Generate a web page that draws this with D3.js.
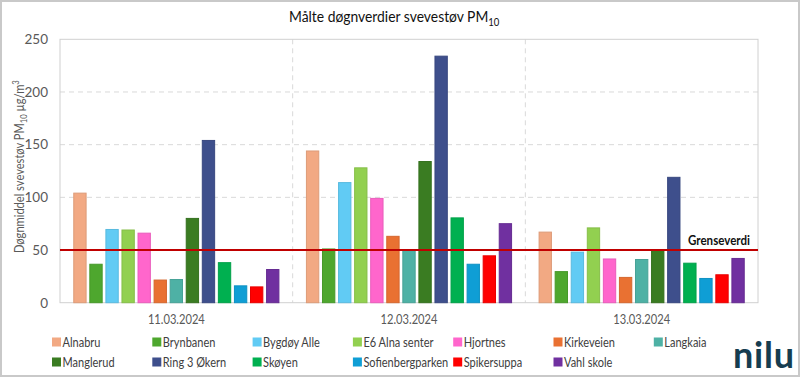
<!DOCTYPE html>
<html><head><meta charset="utf-8">
<script src="https://cdn.jsdelivr.net/npm/d3@7"></script>
<style>
body{margin:0;background:#fff;}
svg{display:block;}
</style></head>
<body><svg id="c" width="800" height="377"></svg>
<script>
const dates = ["11.03.2024","12.03.2024","13.03.2024"];
const stations = ["Alnabru","Brynbanen","Bygdøy Alle","E6 Alna senter","Hjortnes","Kirkeveien","Langkaia","Manglerud","Ring 3 Økern","Skøyen","Sofienbergparken","Spikersuppa","Vahl skole"];
const colors = ["#F2A983","#4EA72E","#61CBF4","#92D050","#FF66CC","#E97132","#4EB1A5","#3A7C22","#3E4F8C","#00B050","#0F9ED5","#FF0000","#7030A0"];
const day1 = [104,36.5,69.5,69,66,21.5,22,80,154,38,16,15,31.5];
const day2 = [144,51,114,128,99,63,49.5,134,234,80.5,36.5,44.5,75];
const day3 = [67,29.5,48,71,41.5,24,41,50,119,37.5,23,26.5,42];
const values = [day1, day2, day3];
const yTicks = [0,50,100,150,200,250];
const limitValue = 50;

const svg = d3.select("#c");
const FF = "Lato, 'Open Sans', sans-serif";
const L = 60, R = 758, T = 39.3, B = 302.7;

function fit(textSel, target){
  const w = textSel.node().getComputedTextLength();
  textSel.attr("transform", `scale(${target / w},1)`);
}

svg.append("rect").attr("x",1).attr("y",1).attr("width",798).attr("height",375)
  .attr("fill","#fff").attr("stroke","#c9c9c9").attr("stroke-width",2);

const x0 = d3.scaleBand().domain(dates).range([L,R]).padding(0);
const bw = x0.bandwidth();
const x1 = d3.scaleBand().domain(stations).range([bw*0.057, bw*(1-0.057)]).paddingInner(0.17).paddingOuter(0);
const y = d3.scaleLinear().domain([0,250]).range([B,T]);

// grid
svg.append("g").selectAll("line").data(yTicks.filter(d=>d>0 && d<250)).join("line")
  .attr("x1",L).attr("x2",R).attr("y1",d=>y(d)).attr("y2",d=>y(d))
  .attr("stroke","#d9d9d9").attr("stroke-dasharray","5,4").attr("stroke-width",1);
svg.append("g").selectAll("line").data(dates.slice(1)).join("line")
  .attr("x1",d=>x0(d)).attr("x2",d=>x0(d)).attr("y1",T).attr("y2",B)
  .attr("stroke","#d9d9d9").attr("stroke-dasharray","5,4").attr("stroke-width",1);
svg.append("rect").attr("x",L).attr("y",T).attr("width",R-L).attr("height",B-T)
  .attr("fill","none").attr("stroke","#d0d0d0").attr("stroke-width",1);

// y axis labels
const yAxis = d3.axisLeft(y).tickValues(yTicks).tickSize(0).tickPadding(10);
const ga = svg.append("g").attr("transform",`translate(${L-2},0)`).call(yAxis);
ga.select(".domain").remove();
ga.selectAll("text").attr("font-family",FF).attr("font-size",13.5).attr("fill","#595959");

// x axis labels
const xa = d3.axisBottom(x0).tickSize(0).tickPadding(12);
const gx = svg.append("g").attr("transform",`translate(0,${B})`).call(xa);
gx.select(".domain").remove();
gx.selectAll("text").attr("font-family",FF).attr("font-size",13).attr("fill","#595959")
  .each(function(){ fit(d3.select(this), 57); });

// bars
const groups = svg.append("g").selectAll("g").data(dates).join("g")
  .attr("transform",d=>`translate(${x0(d)},0)`);
groups.selectAll("rect").data((d,i)=>stations.map((s,j)=>({s, v: values[i][j], c: colors[j]}))).join("rect")
  .attr("x",d=>x1(d.s)+0.5).attr("width",x1.bandwidth()-1)
  .attr("y",d=>y(d.v)).attr("height",d=>y(0)-y(d.v))
  .attr("fill",d=>d.c).attr("stroke",d=>d3.color(d.c).darker(0.25)).attr("stroke-width",1);

// limit line
svg.append("line").attr("x1",L).attr("x2",R).attr("y1",y(limitValue)).attr("y2",y(limitValue))
  .attr("stroke","#C00000").attr("stroke-width",2);
const gl = svg.append("g").attr("transform",`translate(688,${y(limitValue)-5})`);
const glt = gl.append("text").attr("font-family",FF).attr("font-size",12.5).attr("font-weight","bold").attr("fill","#111").text("Grenseverdi");
fit(glt, 62);

// title
const gt = svg.append("g").attr("transform","translate(289,22)");
const title = gt.append("text").attr("font-family",FF).attr("font-size",16).attr("fill","#111");
title.append("tspan").text("Målte døgnverdier svevestøv PM");
title.append("tspan").attr("font-size",11).attr("dy",4).text("10");
{ const w = title.node().getBBox().width; title.attr("transform",`scale(${211/w},1)`); }

// y title
const gy = svg.append("g").attr("transform",`translate(24,253) rotate(-90)`);
const yt = gy.append("text").attr("font-family",FF).attr("font-size",13).attr("fill","#595959");
yt.append("tspan").text("Døgnmiddel svevestøv PM");
yt.append("tspan").attr("font-size",9).attr("dy",3).text("10");
yt.append("tspan").attr("dy",-3).text(" µg/m");
yt.append("tspan").attr("font-size",9).attr("dy",-5).text("3");
{ const w = yt.node().getBBox().width; yt.attr("transform",`scale(${173/w},1)`); }

// legend
const leg = svg.append("g");
let legScale = null;
stations.forEach((s,i)=>{
  const col = i%7, row = Math.floor(i/7);
  const gx0 = 52 + col*100.3, gyy = 342 + row*20;
  leg.append("rect").attr("x",gx0).attr("y",gyy-4.5).attr("width",9).attr("height",9).attr("fill",colors[i]);
  const g = leg.append("g").attr("transform",`translate(${gx0+10.5},${gyy+5})`);
  const t = g.append("text").attr("font-family",FF).attr("font-size",13.5).attr("fill","#404040").text(s);
  if (legScale === null) legScale = 38 / t.node().getComputedTextLength();
  t.attr("transform",`scale(${legScale},1)`);
});

// logo
svg.append("text").attr("x",763.5).attr("y",368).attr("text-anchor","middle")
  .attr("font-family","Lato, 'Open Sans', sans-serif").attr("font-weight","bold").attr("font-size",36)
  .attr("fill","#163D50").attr("textLength",61).attr("lengthAdjust","spacing").text("nilu");
</script></body></html>
